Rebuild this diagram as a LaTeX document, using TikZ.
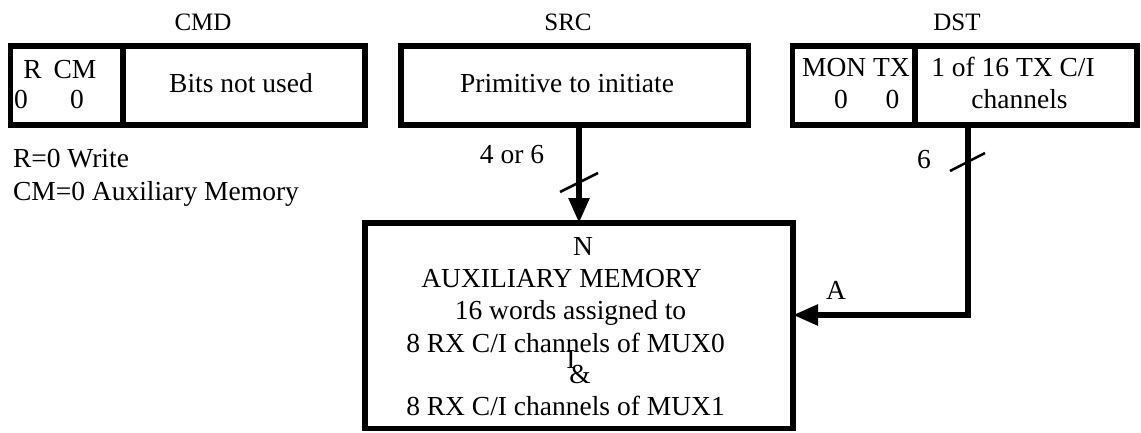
\documentclass[tikz,border=0pt]{standalone}
\usepackage{fontspec}
\setmainfont{Liberation Serif}
\usetikzlibrary{arrows.meta}

\tikzset{
  field/.style={draw, line width=5.5pt, inner sep=0pt, outer sep=0pt, minimum height=79pt},
  txt/.style={anchor=base, inner sep=0pt, outer sep=0pt},
  title/.style={txt, font=\fontsize{25}{28}\selectfont},
  bus/.style={line width=5.5pt, -{Triangle[length=25pt, width=20pt]}},
  slash/.style={line width=2.5pt},
}

\begin{document}
\begin{tikzpicture}[x=1pt, y=-1pt, font=\fontsize{27.5}{31}\selectfont]

    \useasboundingbox (0,0) rectangle (1141,432);

    % Titles of the three words
    \node[title] (cmdtitle) at (203,30) {CMD};
    \node[title] (srctitle) at (568,30) {SRC};
    \node[title] (dsttitle) at (957,30) {DST};

    % CMD word
    \node[field, minimum width=112.5pt] (cmdflags) at (66.75,85.5) {};
    \node[field, minimum width=242pt] (cmdfree) at (244,85.5) {};
    \node[txt] (cmdr) at (32.5,78) {R};
    \node[txt] (cmdcm) at (75,78) {CM};
    \node[txt] (cmdrv) at (21,108) {0};
    \node[txt] (cmdcmv) at (77,108) {0};
    \node[txt] (cmdbits) at (241,92) {Bits not used};

    % Meaning of the CMD bits
    \node[txt, anchor=base west] (legr) at (13,167) {R=0 Write};
    \node[txt, anchor=base west] (legcm) at (13,200) {CM=0 Auxiliary Memory};

    % SRC word
    \node[field, minimum width=347.5pt] (src) at (574.75,85.5) {};
    \node[txt] (srctext) at (567,92) {Primitive to initiate};

    % DST word
    \node[field, minimum width=122.5pt] (dstflags) at (853.75,85.5) {};
    \node[field, minimum width=222pt] (dstchan) at (1026,85.5) {};
    \node[txt] (dstmon) at (856,76) {MON TX};
    \node[txt] (dstmonv) at (841,108) {0};
    \node[txt] (dsttxv) at (892.5,108) {0};
    \node[txt] (dstch) at (1013,76) {1 of 16 TX C/I};
    \node[txt] (dstchb) at (1019.5,108) {channels};

    % Auxiliary memory
    \node[draw, line width=5.5pt, inner sep=0pt, outer sep=0pt,
          minimum width=428pt, minimum height=205.5pt] (mem) at (579,325.75) {};
    \node[txt] (memn) at (583,255) {N};
    \node[txt] (memtitle) at (561.5,287) {AUXILIARY MEMORY};
    \node[txt] (memwords) at (570.5,319) {16 words assigned to};
    \node[txt] (memmux0) at (565.5,352) {8 RX C/I channels of MUX0};
    \node[txt] (memi) at (571,368) {I};
    \node[txt] (memamp) at (580,383) {\&};
    \node[txt] (memmux1) at (565.5,415) {8 RX C/I channels of MUX1};

    % Buses into the memory
    \draw[bus] (src.south -| mem.north) -- (mem.north);
    \draw[bus] ([xshift=-58pt]dstchan.south) |- ([yshift=10.75pt]mem.east);

    % Bus widths
    \draw[slash] (560,192) -- (598,173);
    \draw[slash] (950,171) -- (985,153);
    \node[txt] (srcwidth) at (512,163) {4 or 6};
    \node[txt] (dstwidth) at (924,168) {6};
    \node[txt] (dstaddr) at (836,299) {A};

\end{tikzpicture}
\end{document}
